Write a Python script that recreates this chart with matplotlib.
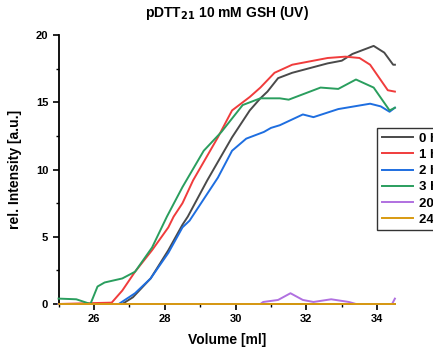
import matplotlib
matplotlib.use("Agg")
import matplotlib.pyplot as plt
from matplotlib.ticker import MultipleLocator

plt.rcParams['font.family'] = ['Liberation Sans', 'DejaVu Sans']
plt.rcParams['font.weight'] = 'bold'

labels = ["0 h", "1 h", "2 h", "3 h", "20 h", "24 h"]
colors = ["#4a4a4a", "#f03c3c", "#1e6ee0", "#2a9e5e", "#b070e0", "#d89a10"]

x_0h = [25.0, 26.8, 27.1, 27.6, 28.1, 28.5, 28.65, 29.2, 29.9, 30.4, 30.7, 30.9, 31.2, 31.6, 32.6, 33.0, 33.3, 33.9, 34.2, 34.45, 34.5]
y_0h = [0.0, 0.0, 0.5, 1.9, 4.0, 5.9, 6.5, 9.2, 12.4, 14.4, 15.3, 15.8, 16.8, 17.2, 17.9, 18.1, 18.6, 19.2, 18.7, 17.8, 17.8]

x_1h = [25.0, 26.5, 26.8, 27.16, 27.64, 28.1, 28.25, 28.5, 28.8, 29.5, 29.9, 30.4, 30.7, 31.1, 31.6, 32.6, 33.1, 33.5, 33.8, 34.3, 34.5]
y_1h = [0.0, 0.1, 1.0, 2.4, 4.0, 5.7, 6.5, 7.5, 9.2, 12.4, 14.4, 15.4, 16.1, 17.2, 17.8, 18.3, 18.4, 18.3, 17.8, 15.9, 15.8]

x_2h = [25.0, 26.7, 27.16, 27.6, 28.1, 28.5, 28.7, 29.5, 29.9, 30.3, 30.8, 31.0, 31.25, 31.9, 32.2, 32.9, 33.8, 34.1, 34.35, 34.5]
y_2h = [0.0, 0.0, 0.8, 1.9, 3.8, 5.7, 6.2, 9.4, 11.4, 12.3, 12.8, 13.1, 13.3, 14.1, 13.9, 14.5, 14.9, 14.7, 14.3, 14.6]

x_3h = [25.0, 25.5, 25.9, 26.1, 26.3, 26.8, 27.16, 27.64, 28.06, 28.5, 29.1, 29.6, 30.2, 30.7, 31.25, 31.5, 32.4, 32.9, 33.4, 33.9, 34.35, 34.5]
y_3h = [0.4, 0.35, 0.0, 1.3, 1.6, 1.9, 2.4, 4.2, 6.5, 8.7, 11.4, 12.8, 14.8, 15.3, 15.3, 15.2, 16.1, 16.0, 16.7, 16.1, 14.4, 14.6]

x_20h = [25.0, 30.7, 30.78, 31.2, 31.55, 31.9, 32.2, 32.7, 33.2, 33.4, 34.42, 34.5]
y_20h = [0.0, 0.0, 0.15, 0.3, 0.8, 0.3, 0.15, 0.35, 0.15, 0.0, 0.0, 0.4]

x_24h = [25.0, 34.5]
y_24h = [0.0, 0.0]

series = [(x_0h, y_0h), (x_1h, y_1h), (x_2h, y_2h), (x_3h, y_3h), (x_20h, y_20h), (x_24h, y_24h)]

fig = plt.figure(figsize=(4.33, 3.55), dpi=100)
ax = fig.add_axes([0.1353, 0.1437, 0.7767, 0.7573])

handles = []
for (xs, ys), c, lab in zip(series, colors, labels):
    h, = ax.plot(xs, ys, color=c, lw=1.4, label=lab, clip_on=False, zorder=3)
    handles.append(h)

ax.set_xlim(25, 34.5)
ax.set_ylim(0, 20)
ax.xaxis.set_major_locator(MultipleLocator(2))
ax.xaxis.set_minor_locator(MultipleLocator(1))
ax.yaxis.set_major_locator(MultipleLocator(5))
ax.yaxis.set_minor_locator(MultipleLocator(2.5))
ax.spines['top'].set_visible(False)
ax.spines['right'].set_visible(False)
for s in ('left', 'bottom'):
    ax.spines[s].set_linewidth(1.3)
ax.tick_params(which='major', direction='out', length=4, width=1.2, labelsize=8)
ax.tick_params(which='minor', direction='out', length=2.5, width=1.0)
for t in ax.get_xticklabels() + ax.get_yticklabels():
    t.set_fontweight('bold')

ax.set_xlabel("Volume [ml]", fontsize=10, fontweight='bold', labelpad=6)
ax.set_ylabel("rel. Intensity [a.u.]", fontsize=10, fontweight='bold', labelpad=10)
ax.set_title("pDTT$_{\\mathbf{21}}$ 10 mM GSH (UV)", fontsize=10, fontweight='bold', pad=13)

leg = fig.legend(handles=handles, loc='upper left', bbox_to_anchor=(0.8707, 0.6394),
                 prop={'weight': 'bold', 'size': 9.5}, frameon=True, fancybox=False,
                 edgecolor='black', handlelength=2.4, handletextpad=0.4,
                 labelspacing=0.3, borderpad=0.35, borderaxespad=0)
leg.get_frame().set_linewidth(1.0)

fig.savefig("out.png", dpi=100)
